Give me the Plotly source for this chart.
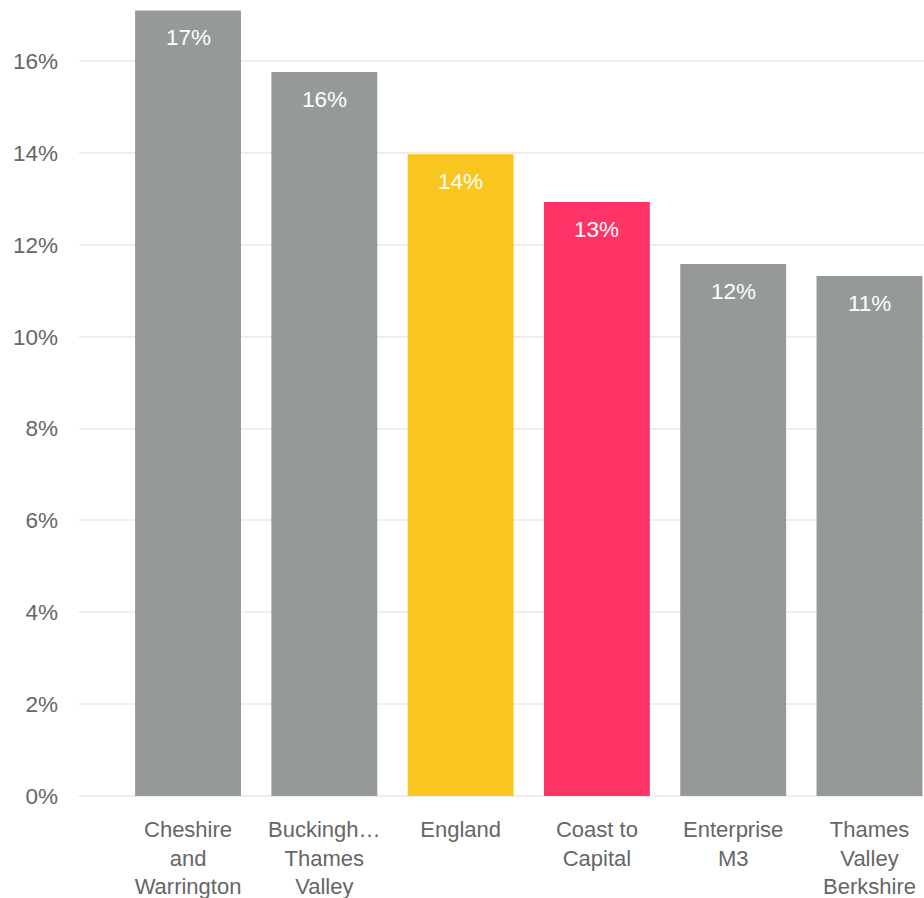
import plotly.graph_objects as go

categories = ["Cheshire<br>and<br>Warrington", "Buckingh…<br>Thames<br>Valley", "England",
              "Coast to<br>Capital", "Enterprise<br>M3", "Thames<br>Valley<br>Berkshire"]
values = [17.1, 15.76, 13.97, 12.93, 11.58, 11.32]
colors = ["#959a99", "#959a99", "#f9c61f", "#ff3366", "#959a99", "#959a99"]
labels = [f"{round(v)}%" for v in values]

fig = go.Figure()
fig.add_trace(go.Bar(x=list(range(len(categories))), y=values, marker_color=colors,
                     marker_line_width=0, width=0.777, hoverinfo="skip"))

for i, (v, t) in enumerate(zip(values, labels)):
    fig.add_annotation(x=i, y=v, text=t, showarrow=False, yshift=-27,
                       font=dict(color="white", size=22.5, family="Arial"))

fig.update_layout(
    width=924, height=898,
    margin=dict(l=79, r=0, t=0, b=102),
    plot_bgcolor="white", paper_bgcolor="white",
    showlegend=False,
    font=dict(family="Arial", color="#666666"),
    xaxis=dict(range=[-0.80, 5.40], tickmode="array", tickvals=list(range(len(categories))),
               ticktext=categories, tickfont=dict(size=22, color="#666666"),
               showgrid=False, zeroline=False, showline=False, ticks="", ticklabelstandoff=18),
    yaxis=dict(range=[0, 17.33], dtick=2, ticksuffix="%", tickfont=dict(size=22.5, color="#666666"),
               showgrid=True, gridcolor="#eeeeee", gridwidth=1.5, zeroline=True,
               zerolinecolor="#eeeeee", zerolinewidth=2, ticks="", ticklabelstandoff=20),
)

fig.write_html("out.html")
